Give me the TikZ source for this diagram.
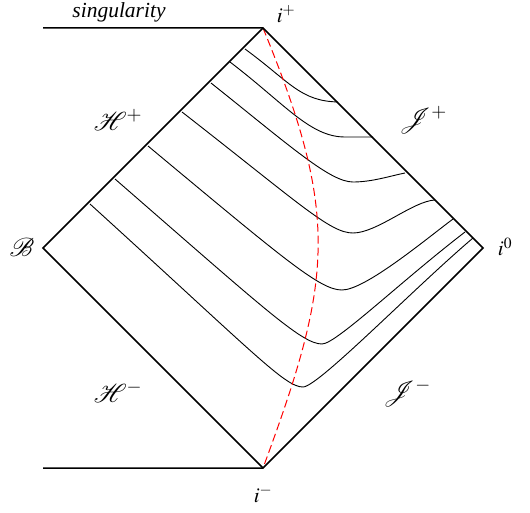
\documentclass[tikz,border=0pt]{standalone}
\usepackage{mathptmx}
\usepackage{fontspec}
\setmainfont{Liberation Serif}
\begin{document}
\begin{tikzpicture}[x=1pt,y=-1pt,
  edge/.style={line width=1.5pt, line join=miter},
  slice/.style={line width=0.9pt},
  surf/.style={red, line width=1pt, dash pattern=on 8pt off 4pt},
  lab/.style={inner sep=0pt, font=\fontsize{21}{25}\selectfont},
  cal/.style={inner sep=0pt, font=\fontsize{26}{30}\selectfont}]
\useasboundingbox (0,0) rectangle (530,513);
\coordinate (ip) at (263,28);
\coordinate (im) at (263,468);
\coordinate (iz) at (483,248);
\coordinate (Bc) at (43,248);
\coordinate (sl) at (43,28);
\coordinate (bl) at (43,468);
% slices
\draw[slice] (245,49) .. controls (290,82) and (300,101) .. (338,102);
\draw[slice] (230,62) .. controls (285,104) and (310,137) .. (345,137) -- (373,137);
\draw[slice] (211,83) .. controls (290,146) and (330,182) .. (353,182)
  .. controls (372,182) and (390,176) .. (405,173);
\draw[slice] (182,112) .. controls (300,204) and (330,233) .. (353,233)
  .. controls (377,233) and (413,201) .. (435,200);
\draw[slice] (148,146) .. controls (285,260) and (320,290) .. (342,290)
  .. controls (365,290) and (425,240) .. (453,219);
\draw[slice] (115,179) .. controls (265,309.5) and (302,344) .. (322,344)
  .. controls (336,344) and (400,282) .. (465,232);
\draw[slice] (90,204) .. controls (255,354) and (285,387) .. (303,387)
  .. controls (318,387) and (413,289) .. (473,238);
% surface r = const
\draw[surf] (ip) .. controls (340,216) and (333,279) .. (im);
% boundary
\draw[edge] (bl) -- (im) -- (iz) -- (ip) -- (sl);
\draw[edge] (ip) -- (Bc) -- (im);
% labels
\node[inner sep=0pt, font=\fontsize{21.5}{25}\selectfont\itshape] (sing) at (119,12) {singularity};
\node[lab] (lip) at (286,14) {$i^+$};
\node[lab] (lim) at (263,494) {$i^-$};
\node[lab] (liz) at (505,247) {$i^0$};
\node[cal] (lB) at (22,247) {$\mathcal{B}$};
\node[cal] (lHp) at (118,120) {$\mathcal{H}^+$};
\node[cal] (lJp) at (423,120) {$\mathcal{J}^+$};
\node[cal] (lHm) at (118,392) {$\mathcal{H}^-$};
\node[cal] (lJm) at (407,393) {$\mathcal{J}^-$};
\end{tikzpicture}
\end{document}
